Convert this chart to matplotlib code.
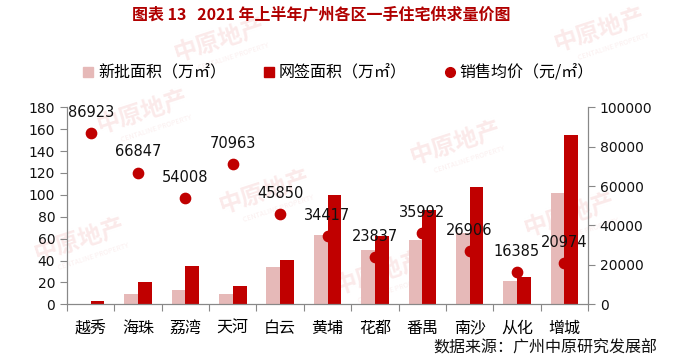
import matplotlib
matplotlib.use("Agg")
import matplotlib.pyplot as plt
import numpy as np
from matplotlib.patches import Patch
from matplotlib.lines import Line2D

plt.rcParams['font.family'] = ['Noto Sans CJK SC', 'DejaVu Sans']

districts = ["越秀", "海珠", "荔湾", "天河", "白云", "黄埔", "花都", "番禺", "南沙", "从化", "增城"]
new_area = [0, 9.5, 13, 9.5, 34, 63, 50, 59, 65, 21.5, 102]
signed_area = [3, 20, 35, 17, 40.5, 100, 62, 86, 107, 25, 155]
avg_price = [86923, 66847, 54008, 70963, 45850, 34417, 23837, 35992, 26906, 16385, 20974]

c_light = '#E6B9B8'
c_dark = '#C00000'
c_axis = '#888888'

fig = plt.figure(figsize=(6.73, 3.60), dpi=100)
ax = fig.add_axes([0.0996, 0.1547, 0.7741, 0.5475])
ax2 = ax.twinx()

# faint watermarks (drawn behind the axes content)
wm = [(143, 112), (265, 192), (80, 240), (456, 143), (570, 215), (380, 273),
      (600, 30), (220, 40)]
for (px, py) in wm:
    fig.text(px / 673, 1 - py / 360, "中原地产", color='#FBEAEA', fontsize=17,
             fontweight='bold', rotation=18, ha='center', va='center', zorder=-5)
    fig.text(px / 673 + 0.02, 1 - (py + 17) / 360, "CENTALINE PROPERTY", color='#FBEFEF',
             fontsize=5, rotation=18, ha='center', va='center', zorder=-5)

x = np.arange(len(districts))
w = 0.29
ax.bar(x - w / 2, new_area, width=w, color=c_light, zorder=2)
ax.bar(x + w / 2, signed_area, width=w, color=c_dark, zorder=2)

ax.set_xlim(-0.5, len(districts) - 0.5)
ax.set_ylim(0, 180)
ax.set_yticks(np.arange(0, 181, 20))
ax2.set_ylim(0, 100000)
ax2.set_yticks(np.arange(0, 100001, 20000))

ax2.scatter(x, avg_price, s=55, color=c_dark, zorder=4)
for xi, v in zip(x, avg_price):
    ax2.annotate(f"{v}", (xi, v), xytext=(0, 15), textcoords='offset points',
                 ha='center', va='center', fontsize=10.5, family='DejaVu Sans',
                 color='#111111', zorder=5)

for a in (ax, ax2):
    a.patch.set_visible(False)
    a.spines['top'].set_visible(False)
    a.spines['left'].set_color(c_axis)
    a.spines['right'].set_color(c_axis)
    a.spines['bottom'].set_color(c_axis)
    a.tick_params(axis='y', colors='#111111', labelsize=10, length=5, width=0.8,
                  color=c_axis, direction='out')
    for lab in a.get_yticklabels():
        lab.set_family('DejaVu Sans')

ax.set_xticks(x)
ax.set_xticklabels(districts, fontsize=11.5)
ax.tick_params(axis='x', length=0, pad=11)
ax.set_xticks(np.arange(-0.5, len(districts), 1), minor=True)
ax.tick_params(axis='x', which='minor', length=5, width=0.8, color=c_axis, direction='out')

fig.text(0.477, 1 - 14 / 360, "图表 13   2021 年上半年广州各区一手住宅供求量价图",
         ha='center', va='center', fontsize=11.5, fontweight='bold', color='#B00000')

handles = [Patch(color=c_light, label="新批面积（万㎡）"),
           Patch(color=c_dark, label="网签面积（万㎡）"),
           Line2D([], [], marker='o', color=c_dark, linestyle='none', markersize=7,
                  label="销售均价（元/㎡）")]
fig.legend(handles=handles, loc='center', bbox_to_anchor=(0.503, 1 - 73 / 360), ncol=3,
           frameon=False, fontsize=11.5, handlelength=0.6, handleheight=0.6,
           handletextpad=0.3, columnspacing=2.4)

fig.text(657 / 673, 1 - 348 / 360, "数据来源：广州中原研究发展部", ha='right', va='center',
         fontsize=11.5, color='#111111')

fig.savefig("out.png", dpi=100)
